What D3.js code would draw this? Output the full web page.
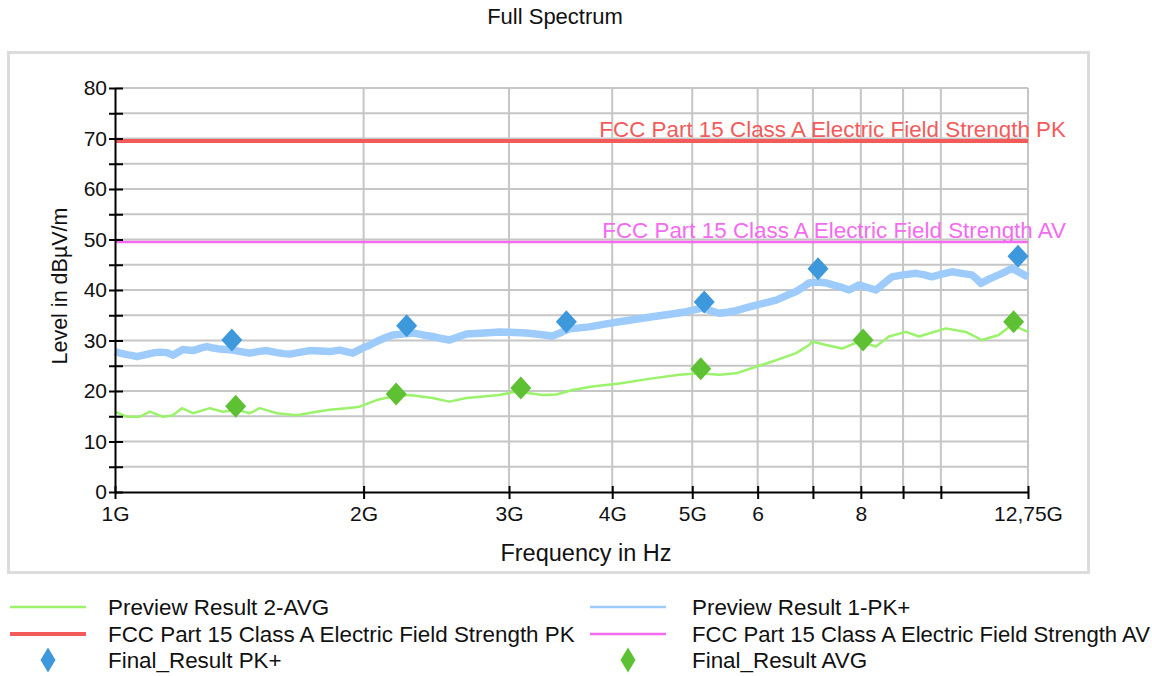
<!DOCTYPE html>
<html>
<head>
<meta charset="utf-8">
<script src="https://cdn.jsdelivr.net/npm/d3@7"></script>
<style>
  html, body { margin: 0; padding: 0; background: #fff; }
  svg { display: block; font-family: "Liberation Sans", Arial, sans-serif; }
</style>
</head>
<body>
<svg id="chart" width="1152" height="676"></svg>
<script>
// ---------------- DATA ----------------
const title = "Full Spectrum";
const xLabel = "Frequency in Hz";
const yLabel = "Level in dBµV/m";

const xTickValues = [1, 2, 3, 4, 5, 6, 7, 8, 9, 10, 12.75];
const xTickLabels = ["1G", "2G", "3G", "4G", "5G", "6", "", "8", "", "", "12,75G"];
const yTickValues = [0, 5, 10, 15, 20, 25, 30, 35, 40, 45, 50, 55, 60, 65, 70, 75, 80];

// Preview Result 1-PK+ (frequency GHz, level dBµV/m)
const pkFreq = [1.000, 1.014, 1.034, 1.051, 1.063, 1.083, 1.102, 1.118, 1.134, 1.156, 1.175, 1.190, 1.208, 1.243, 1.270, 1.292, 1.315, 1.339, 1.389, 1.420, 1.456, 1.490, 1.527, 1.570, 1.600, 1.628, 1.680, 1.721, 1.770, 1.820, 1.871, 1.940, 1.994, 2.030, 2.074, 2.120, 2.169, 2.230, 2.294, 2.360, 2.424, 2.480, 2.541, 2.600, 2.665, 2.800, 2.921, 3.050, 3.149, 3.270, 3.386, 3.470, 3.549, 3.650, 3.752, 3.900, 4.080, 4.270, 4.473, 4.700, 4.918, 5.040, 5.140, 5.260, 5.390, 5.520, 5.651, 5.820, 5.975, 6.150, 6.318, 6.500, 6.680, 6.800, 6.926, 7.100, 7.262, 7.430, 7.593, 7.742, 7.850, 7.960, 8.150, 8.346, 8.530, 8.726, 9.000, 9.329, 9.550, 9.753, 10.00, 10.31, 10.60, 10.90, 11.05, 11.18, 11.45, 11.75, 12.00, 12.19, 12.45, 12.75];
const pkLevel = [27.8, 27.5, 27.2, 27.0, 26.8, 27.1, 27.4, 27.6, 27.7, 27.6, 27.1, 27.6, 28.2, 28.0, 28.5, 28.8, 28.5, 28.3, 28.1, 27.8, 27.5, 27.8, 28.0, 27.6, 27.4, 27.3, 27.7, 28.0, 27.9, 27.8, 28.1, 27.5, 28.5, 29.0, 29.8, 30.5, 31.1, 31.3, 31.5, 31.1, 30.8, 30.4, 30.1, 30.7, 31.3, 31.5, 31.7, 31.6, 31.5, 31.2, 30.9, 31.6, 32.3, 32.5, 32.7, 33.2, 33.7, 34.2, 34.7, 35.2, 35.7, 36.1, 36.4, 35.9, 35.4, 35.6, 35.9, 36.5, 37.0, 37.5, 38.0, 38.9, 39.7, 40.5, 41.4, 41.6, 41.4, 40.9, 40.5, 40.0, 40.5, 41.0, 40.5, 40.0, 41.3, 42.6, 43.0, 43.3, 43.0, 42.6, 43.1, 43.6, 43.3, 43.0, 42.2, 41.3, 42.2, 43.0, 43.7, 44.3, 43.5, 42.6];

// Preview Result 2-AVG
const avFreq = [1.000, 1.034, 1.072, 1.102, 1.143, 1.175, 1.205, 1.243, 1.303, 1.351, 1.404, 1.456, 1.497, 1.570, 1.660, 1.755, 1.820, 1.908, 1.978, 2.074, 2.169, 2.275, 2.424, 2.541, 2.665, 2.921, 3.063, 3.293, 3.423, 3.579, 3.784, 4.080, 4.473, 4.823, 5.099, 5.390, 5.651, 5.975, 6.318, 6.680, 6.926, 6.984, 7.262, 7.593, 7.960, 8.346, 8.653, 9.073, 9.407, 10.14, 10.72, 11.21, 11.75, 12.19, 12.75];
const avLevel = [15.9, 14.9, 14.9, 15.9, 14.9, 15.2, 16.6, 15.6, 16.6, 15.9, 16.3, 15.6, 16.6, 15.6, 15.2, 15.9, 16.3, 16.6, 16.9, 18.2, 18.9, 19.2, 18.6, 17.9, 18.6, 19.2, 19.9, 19.2, 19.3, 20.2, 20.9, 21.5, 22.5, 23.2, 23.5, 23.2, 23.5, 24.8, 26.1, 27.5, 29.1, 29.8, 29.1, 28.4, 29.8, 28.8, 30.8, 31.7, 30.8, 32.4, 31.7, 30.1, 31.1, 33.1, 31.7];

// Final results (markers)
const finalPkFreq = [1.385, 2.255, 3.52, 5.17, 7.10, 12.4];
const finalPkLevel = [30.1, 32.9, 33.7, 37.6, 44.2, 46.7];
const finalAvFreq = [1.40, 2.19, 3.10, 5.12, 8.05, 12.25];
const finalAvLevel = [17.0, 19.4, 20.6, 24.4, 30.1, 33.7];

// Limits
const limitNames = ["FCC Part 15 Class A Electric Field Strength PK", "FCC Part 15 Class A Electric Field Strength AV"];
const limitLevels = [69.5, 49.5];
const limitFreqRange = [1, 12.75];

const legendNames = ["Preview Result 2-AVG", "Preview Result 1-PK+",
  "FCC Part 15 Class A Electric Field Strength PK", "FCC Part 15 Class A Electric Field Strength AV",
  "Final_Result PK+", "Final_Result AVG"];

// ---------------- STYLE ----------------
const C = {
  pk: "#9dcbfb", av: "#9af36a", limPk: "#f35b5b", limAv: "#f46af0",
  mPk: "#3d98dc", mAv: "#5dc133", grid: "#c6c6c6"
};

const svg = d3.select("#chart");
const x = d3.scaleLog().domain([1, 12.75]).range([115, 1028]);
const y = d3.scaleLinear().domain([0, 80]).range([492, 88]);

// frame
svg.append("rect").attr("x", 8.5).attr("y", 52.5).attr("width", 1080).attr("height", 520)
  .attr("fill", "#fff").attr("stroke", "#dcdcdc").attr("stroke-width", 3);

// title
svg.append("text").attr("x", 555).attr("y", 24).attr("text-anchor", "middle")
  .attr("font-size", 22).attr("fill", "#111").text(title);

// grid
const g = svg.append("g");
g.selectAll("line.hg").data(yTickValues.filter(d => d > 0)).join("line")
  .attr("x1", x(1)).attr("x2", x(12.75)).attr("y1", d => y(d)).attr("y2", d => y(d))
  .attr("stroke", C.grid).attr("stroke-width", 2);
g.selectAll("line.vg").data(xTickValues.filter(d => d > 1)).join("line")
  .attr("x1", d => x(d)).attr("x2", d => x(d)).attr("y1", y(80)).attr("y2", y(0))
  .attr("stroke", C.grid).attr("stroke-width", 2);

// limits
limitLevels.forEach((lv, i) => {
  svg.append("line").attr("x1", x(limitFreqRange[0])).attr("x2", x(limitFreqRange[1]))
    .attr("y1", y(lv)).attr("y2", y(lv))
    .attr("stroke", i === 0 ? C.limPk : C.limAv).attr("stroke-width", i === 0 ? 4 : 2.5);
});

// traces
const line = d3.line().x(d => x(d[0])).y(d => y(d[1]));
svg.append("path").datum(pkFreq.map((f, i) => [f, pkLevel[i]]))
  .attr("d", line).attr("fill", "none").attr("stroke", C.pk).attr("stroke-width", 7.5)
  .attr("stroke-linejoin", "round");
svg.append("path").datum(avFreq.map((f, i) => [f, avLevel[i]]))
  .attr("d", line).attr("fill", "none").attr("stroke", C.av).attr("stroke-width", 2.5)
  .attr("stroke-linejoin", "round");

// markers
function diamond(w, h) { return `M0,${-h/2}L${w/2},0L0,${h/2}L${-w/2},0Z`; }
svg.selectAll("path.mpk").data(finalPkFreq.map((f, i) => [f, finalPkLevel[i]])).join("path")
  .attr("d", diamond(21, 23)).attr("fill", C.mPk)
  .attr("transform", d => `translate(${x(d[0])},${y(d[1])})`);
svg.selectAll("path.mav").data(finalAvFreq.map((f, i) => [f, finalAvLevel[i]])).join("path")
  .attr("d", diamond(21, 23)).attr("fill", C.mAv)
  .attr("transform", d => `translate(${x(d[0])},${y(d[1])})`);

// limit labels
limitLevels.forEach((lv, i) => {
  svg.append("text").attr("x", x(12.75) + 38).attr("y", y(lv) - 4).attr("text-anchor", "end")
    .attr("font-size", 22.4).attr("fill", i === 0 ? C.limPk : C.limAv).text(limitNames[i]);
});

// axes
const yAxis = d3.axisLeft(y).tickValues(yTickValues).tickFormat(d => d % 10 === 0 ? d : "").tickSize(0).tickPadding(8);
const ya = svg.append("g").attr("transform", `translate(${x(1)},0)`).call(yAxis);
ya.select(".domain").attr("stroke", "#000").attr("stroke-width", 2);
ya.selectAll(".tick line").attr("x1", -6).attr("x2", 8).attr("stroke", "#000").attr("stroke-width", 2);
ya.selectAll(".tick text").attr("font-size", 21).attr("fill", "#111").attr("font-family", "Liberation Sans, Arial, sans-serif");

const xAxis = d3.axisBottom(x).tickValues(xTickValues).tickFormat((d, i) => xTickLabels[i]).tickSize(0).tickPadding(14);
const xa = svg.append("g").attr("transform", `translate(0,${y(0)})`).call(xAxis);
xa.select(".domain").attr("stroke", "#000").attr("stroke-width", 2);
xa.selectAll(".tick line").attr("y1", -6).attr("y2", 7).attr("stroke", "#000").attr("stroke-width", 2);
xa.selectAll(".tick text").attr("font-size", 21).attr("fill", "#111").attr("font-family", "Liberation Sans, Arial, sans-serif");

// axis titles
svg.append("text").attr("x", 586).attr("y", 561).attr("text-anchor", "middle")
  .attr("font-size", 23.5).attr("fill", "#111").text(xLabel);
svg.append("text").attr("transform", `translate(67,286) rotate(-90)`).attr("text-anchor", "middle")
  .attr("font-size", 21.5).attr("fill", "#111").text(yLabel);

// legend
const legCols = [10, 590], legTextX = [108, 692], legRows = [607, 634, 660];
const legStyle = [
  {type: "line", c: C.av, w: 2.5}, {type: "line", c: C.pk, w: 2.5},
  {type: "line", c: C.limPk, w: 4}, {type: "line", c: C.limAv, w: 2.5},
  {type: "dia", c: C.mPk}, {type: "dia", c: C.mAv}
];
legendNames.forEach((nm, i) => {
  const col = i % 2, row = Math.floor(i / 2);
  const s = legStyle[i], cy = legRows[row];
  if (s.type === "line") {
    svg.append("line").attr("x1", legCols[col]).attr("x2", legCols[col] + 76)
      .attr("y1", cy).attr("y2", cy).attr("stroke", s.c).attr("stroke-width", s.w);
  } else {
    svg.append("path").attr("d", diamond(15, 25)).attr("fill", s.c)
      .attr("transform", `translate(${legCols[col] + 38},${cy})`);
  }
  const t = svg.append("text").attr("x", legTextX[col]).attr("y", cy + 8)
    .attr("font-size", 22.4).attr("fill", "#111").text(nm);
  // keep the long right-column label inside the page
  const maxW = 1150 - legTextX[col];
  const w = t.node().getComputedTextLength();
  if (w > maxW) t.attr("font-size", 22.4 * maxW / w);
});
</script>
</body>
</html>
